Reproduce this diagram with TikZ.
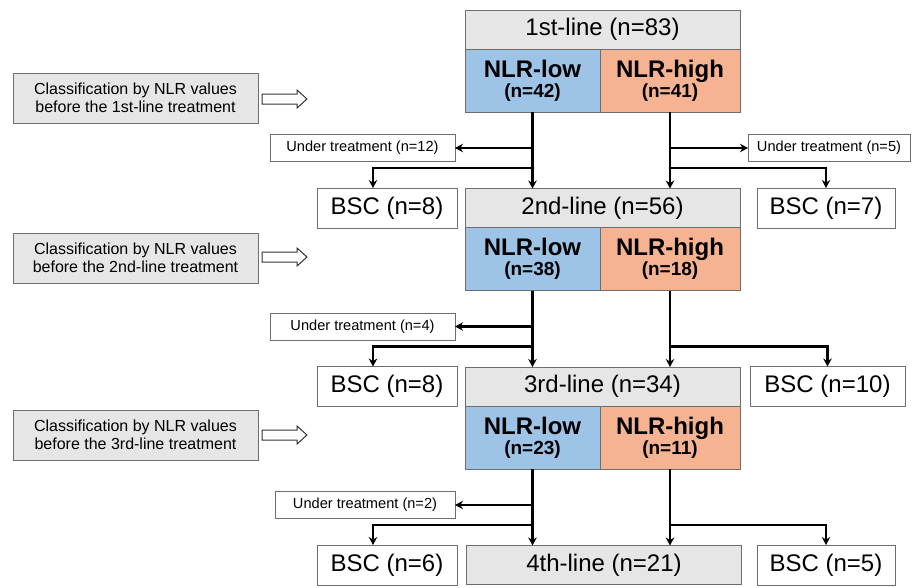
\documentclass[tikz,border=0pt]{standalone}
\usepackage{fontspec}
\setmainfont{Liberation Sans}
\usetikzlibrary{arrows.meta}
\definecolor{lowc}{HTML}{9DC3E6}
\definecolor{highc}{HTML}{F6B391}
\definecolor{grayc}{HTML}{E6E6E6}
\definecolor{edgec}{HTML}{6E6E6E}
\newcommand\nlrtext[2]{{\fontsize{24}{20}\selectfont #1}\\{\fontsize{19}{20}\selectfont #2}}
\begin{document}
\begin{tikzpicture}[x=1pt,y=-1pt,
  box/.style={draw=edgec, line width=1pt, inner sep=0pt, outer sep=0pt},
  grayrow/.style={box, fill=grayc, minimum width=275pt, minimum height=39pt, font=\fontsize{24}{28}\selectfont},
  lowrow/.style={box, fill=lowc, minimum width=135pt, minimum height=63pt, align=center, font=\bfseries\fontsize{19}{20}\selectfont},
  highrow/.style={box, fill=highc, minimum width=140pt, minimum height=63pt, align=center, font=\bfseries\fontsize{19}{20}\selectfont},
  bsc/.style={box, fill=white, minimum height=40pt, font=\fontsize{24}{28}\selectfont},
  utbox/.style={box, fill=white, minimum height=27pt, font=\fontsize{14.6}{16}\selectfont},
  classbox/.style={box, fill=grayc, minimum width=245pt, minimum height=50pt, align=center, font=\fontsize{16}{18}\selectfont},
  arr/.style={line width=2.3pt, -{Stealth[length=8pt,width=8.5pt]}},
  hollow/.style={draw=black!80, line width=1pt, fill=white, line join=miter}]
\useasboundingbox (0,0) rectangle (919,587);

% classification boxes
\node[classbox] (c0) at (135.5,98) {Classification by NLR values\\before the 1st-line treatment};
\node[classbox] (c1) at (135.5,258) {Classification by NLR values\\before the 2nd-line treatment};
\node[classbox] (c2) at (135.5,435) {Classification by NLR values\\before the 3rd-line treatment};
\foreach \yy in {99,257,435}{
  \draw[hollow] (262,\yy-5) -- (297,\yy-5) -- (297,\yy-9) -- (307,\yy) -- (297,\yy+9) -- (297,\yy+5) -- (262,\yy+5) -- cycle;
}

% row 0
\node[grayrow] (g0) at (602.5,29.5) {1st-line (n=83)};
\node[lowrow] (l0) at (532.5,80.5) {\nlrtext{NLR-low}{(n=42)}};
\node[highrow] (h0) at (670,80.5) {\nlrtext{NLR-high}{(n=41)}};
\node[utbox, minimum width=185pt] (ut0) at (362.5,148) {Under treatment (n=12)};
\node[utbox, minimum width=162pt] (ut0r) at (829,148) {Under treatment (n=5)};

% row 1
\node[grayrow] (g1) at (602.5,208) {2nd-line (n=56)};
\node[lowrow] (l1) at (532.5,259) {\nlrtext{NLR-low}{(n=38)}};
\node[highrow] (h1) at (670,259) {\nlrtext{NLR-high}{(n=18)}};
\node[bsc, minimum width=140pt] (bL1) at (387,208) {BSC (n=8)};
\node[bsc, minimum width=138pt] (bR1) at (826,208) {BSC (n=7)};
\node[utbox, minimum width=185pt] (ut1) at (362.5,326.5) {Under treatment (n=4)};

% row 2
\node[grayrow] (g2) at (602.5,386.5) {3rd-line (n=34)};
\node[lowrow] (l2) at (532.5,437.5) {\nlrtext{NLR-low}{(n=23)}};
\node[highrow] (h2) at (670,437.5) {\nlrtext{NLR-high}{(n=11)}};
\node[bsc, minimum width=140pt] (bL2) at (387,386.5) {BSC (n=8)};
\node[bsc, minimum width=155pt] (bR2) at (827.5,386.5) {BSC (n=10)};
\node[utbox, minimum width=180pt] (ut2) at (365,505) {Under treatment (n=2)};

% row 3
\node[grayrow] (g3) at (604,565) {4th-line (n=21)};
\node[bsc, minimum width=140pt] (bL3) at (387,565) {BSC (n=6)};
\node[bsc, minimum width=138pt] (bR3) at (826,565) {BSC (n=5)};

% branch coordinates
\coordinate (xl) at (373,0);
\coordinate (br0) at (0,168);
\coordinate (br1) at (0,346.5);
\coordinate (br2) at (0,525);

% connectors row 0 -> 1
\draw[arr] (l0.south) -- (l0.south |- g1.north);
\draw[arr] (h0.south) -- (h0.south |- g1.north);
\draw[arr] (l0.south |- ut0.east) -- (ut0.east);
\draw[arr] (h0.south |- ut0r.west) -- (ut0r.west);
\draw[arr] (l0.south |- br0) -| (xl |- bL1.north);
\draw[arr] (h0.south |- br0) -| (bR1.north);

% connectors row 1 -> 2
\draw[arr] (l1.south) -- (l1.south |- g2.north);
\draw[arr] (h1.south) -- (h1.south |- g2.north);
\draw[arr] (l1.south |- ut1.east) -- (ut1.east);
\draw[arr] (l1.south |- br1) -| (xl |- bL2.north);
\draw[arr] (h1.south |- br1) -| (bR2.north);

% connectors row 2 -> 3
\draw[arr] (l2.south) -- (l2.south |- g3.north);
\draw[arr] (h2.south) -- (h2.south |- g3.north);
\draw[arr] (l2.south |- ut2.east) -- (ut2.east);
\draw[arr] (l2.south |- br2) -| (xl |- bL3.north);
\draw[arr] (h2.south |- br2) -| (bR3.north);
\end{tikzpicture}
\end{document}
